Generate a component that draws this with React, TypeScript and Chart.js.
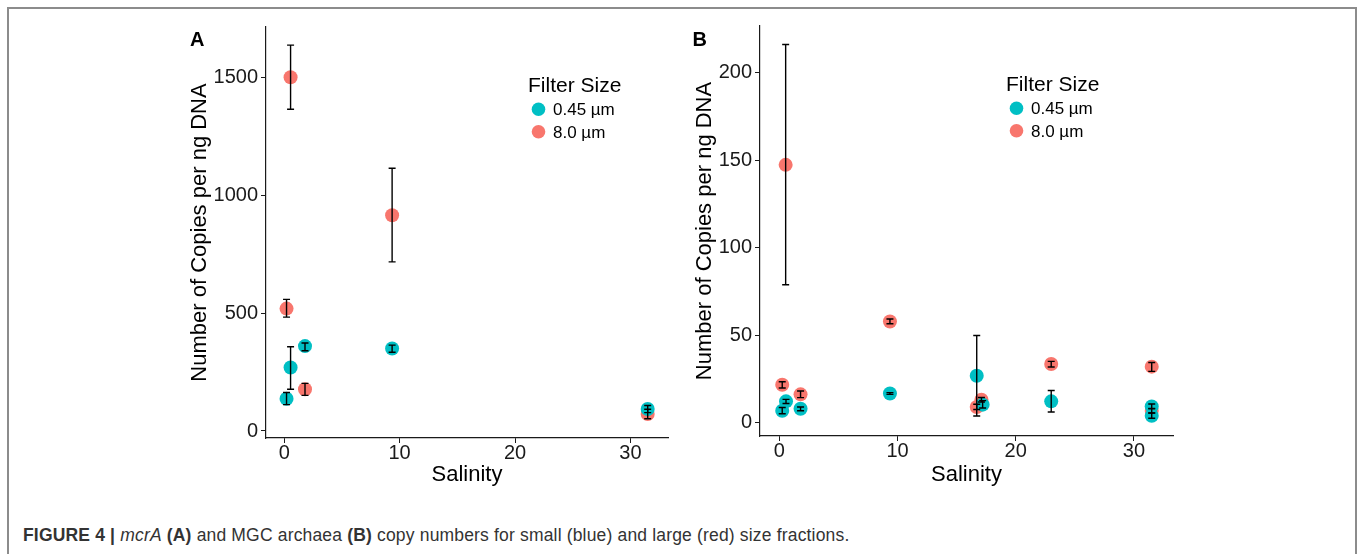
import React, { useEffect, useRef } from "react";
import { Chart, registerables } from "chart.js";

Chart.register(...registerables);

const BLUE = "#00BFC4";
const RED = "#F8766D";

// ---------- Panel A: mcrA ----------
const salinityA_small = [0.2, 0.55, 1.8, 9.35, 31.5];
const copiesA_small = [137, 269, 360, 350, 93];
const lowA_small = [112, 177, 340, 334, 78];
const highA_small = [163, 357, 373, 364, 108];

const salinityA_large = [0.2, 0.55, 1.8, 9.35, 31.5];
const copiesA_large = [519, 1500, 177, 915, 72];
const lowA_large = [483, 1364, 151, 717, 52];
const highA_large = [558, 1636, 202, 1114, 92];

// ---------- Panel B: MGC archaea ----------
const salinityB_small = [0.25, 0.57, 1.8, 9.36, 16.7, 17.2, 23.0, 31.5, 31.5];
const copiesB_small = [6.8, 12.2, 8.0, 16.7, 26.8, 10.3, 12.2, 9.3, 4.0];
const lowB_small = [5.1, 11.0, 6.8, 16.2, 3.8, 8.4, 6.1, 7.9, 2.5];
const highB_small = [8.7, 13.3, 9.0, 17.2, 49.8, 12.6, 18.4, 10.7, 5.5];

const salinityB_large = [0.25, 0.54, 1.8, 9.36, 16.7, 17.1, 23.0, 31.5, 31.5];
const copiesB_large = [21.7, 147.3, 16.2, 57.8, 9.0, 13.1, 33.5, 32.0, 6.8];
const lowB_large = [19.8, 78.8, 14.3, 56.5, 7.5, 11.8, 31.8, 29.3, 5.5];
const highB_large = [23.4, 216, 18.1, 59.2, 10.5, 14.4, 35.0, 34.4, 8.2];

// ---------- Axes / text ----------
const xTicks = [0, 10, 20, 30];
const yTicksA = [0, 500, 1000, 1500];
const yTicksB = [0, 50, 100, 150, 200];
const xTitle = "Salinity";
const yTitle = "Number of Copies per ng DNA";
const legendTitle = "Filter Size";
const legendLabels = ["0.45 µm", "8.0 µm"];

const FONT = "'Liberation Sans', Arial, Helvetica, sans-serif";
const TEXT = "#1a1a1a";

const errorBarPlugin = {
  id: "errorBars",
  afterDatasetsDraw(chart: any) {
    const { ctx } = chart;
    const xs = chart.scales.x;
    const ys = chart.scales.y;
    ctx.save();
    ctx.strokeStyle = "#000";
    ctx.lineWidth = 1.4;
    chart.data.datasets.forEach((ds: any) => {
      ds.data.forEach((p: any, i: number) => {
        const px = xs.getPixelForValue(p.x);
        const yl = ys.getPixelForValue(ds.errLow[i]);
        const yh = ys.getPixelForValue(ds.errHigh[i]);
        const w = 3.5;
        ctx.beginPath();
        ctx.moveTo(px, yl);
        ctx.lineTo(px, yh);
        ctx.moveTo(px - w, yl);
        ctx.lineTo(px + w, yl);
        ctx.moveTo(px - w, yh);
        ctx.lineTo(px + w, yh);
        ctx.stroke();
      });
    });
    ctx.restore();
  },
};

const overlayPlugin = {
  id: "overlay",
  afterDraw(chart: any, _args: any, opts: any) {
    const { ctx } = chart;
    ctx.save();
    ctx.fillStyle = "#000";
    ctx.textAlign = "left";
    ctx.textBaseline = "alphabetic";
    ctx.font = `bold 20px ${FONT}`;
    ctx.fillText(opts.label, opts.labelX, opts.labelY);
    const lx = opts.legendX;
    const ly = opts.legendY;
    ctx.font = `21px ${FONT}`;
    ctx.fillStyle = "#000";
    ctx.fillText(legendTitle, lx, ly);
    ctx.font = `17px ${FONT}`;
    chart.data.datasets.forEach((ds: any, i: number) => {
      ctx.fillStyle = ds.backgroundColor;
      ctx.beginPath();
      ctx.arc(lx + 10.5, ly + 17.5 + i * 22.6, 6.8, 0, Math.PI * 2);
      ctx.fill();
      ctx.fillStyle = "#000";
      ctx.fillText(ds.label, lx + 25, ly + 23.3 + i * 22.6);
    });
    ctx.restore();
  },
};

function makeConfig(p: any): any {
  return {
    type: "scatter",
    data: {
      datasets: [
        {
          label: legendLabels[0],
          data: p.xs.map((x: number, i: number) => ({ x, y: p.ys[i] })),
          errLow: p.lo,
          errHigh: p.hi,
          backgroundColor: BLUE,
          borderWidth: 0,
          pointRadius: 7,
          pointHoverRadius: 7,
        },
        {
          label: legendLabels[1],
          data: p.xl.map((x: number, i: number) => ({ x, y: p.yl[i] })),
          errLow: p.lol,
          errHigh: p.hil,
          backgroundColor: RED,
          borderWidth: 0,
          pointRadius: 7,
          pointHoverRadius: 7,
        },
      ],
    },
    options: {
      responsive: false,
      animation: false,
      devicePixelRatio: 1,
      layout: { padding: { left: p.padLeft, top: p.padTop, right: p.padRight, bottom: 0 } },
      plugins: {
        legend: { display: false },
        tooltip: { enabled: false },
        overlay: {
          label: p.label,
          labelX: p.labelX,
          labelY: p.labelY,
          legendX: p.legendX,
          legendY: p.legendY,
        },
      },
      scales: {
        x: {
          type: "linear",
          min: p.xMin,
          max: p.xMax,
          afterBuildTicks: (s: any) => {
            s.ticks = xTicks.map((v) => ({ value: v }));
          },
          afterFit: (s: any) => {
            s.height = p.xHeight;
          },
          ticks: {
            font: { size: 20, family: FONT, lineHeight: 1.0 },
            color: TEXT,
            padding: 0,
            maxRotation: 0,
            callback: (v: any) => String(v),
          },
          grid: { display: true, drawOnChartArea: false, drawTicks: true, tickLength: 5, color: TEXT, lineWidth: 1 },
          border: { display: true, color: TEXT, width: 1.2 },
          title: {
            display: true,
            text: xTitle,
            font: { size: 22, family: FONT },
            color: "#000",
            padding: { top: 0, bottom: 12 },
          },
        },
        y: {
          type: "linear",
          min: p.yMin,
          max: p.yMax,
          afterBuildTicks: (s: any) => {
            s.ticks = p.yTicks.map((v: number) => ({ value: v }));
          },
          afterFit: (s: any) => {
            s.width = p.yWidth;
          },
          ticks: {
            font: { size: 20, family: FONT },
            color: TEXT,
            padding: 3,
            callback: (v: any) => String(v),
          },
          grid: { display: true, drawOnChartArea: false, drawTicks: true, tickLength: 5, color: TEXT, lineWidth: 1 },
          border: { display: true, color: TEXT, width: 1.2 },
          title: {
            display: true,
            text: yTitle,
            font: { size: 22, family: FONT },
            color: "#000",
            padding: 0,
          },
        },
      },
    },
    plugins: [errorBarPlugin, overlayPlugin],
  };
}

const panelA = {
  xs: salinityA_small, ys: copiesA_small, lo: lowA_small, hi: highA_small,
  xl: salinityA_large, yl: copiesA_large, lol: lowA_large, hil: highA_large,
  xMin: -1.58, xMax: 33.26, yMin: -29.7, yMax: 1713, yTicks: yTicksA,
  padLeft: 187, padTop: 27, padRight: 12, yWidth: 79, xHeight: 62,
  label: "A", labelX: 190, labelY: 46, legendX: 528, legendY: 91.7,
};

const panelB = {
  xs: salinityB_small, ys: copiesB_small, lo: lowB_small, hi: highB_small,
  xl: salinityB_large, yl: copiesB_large, lol: lowB_large, hil: highB_large,
  xMin: -1.63, xMax: 33.3, yMin: -7.6, yMax: 226.6, yTicks: yTicksB,
  padLeft: 12, padTop: 26, padRight: 187, yWidth: 68, xHeight: 64,
  label: "B", labelX: 12.5, labelY: 46, legendX: 326, legendY: 90.7,
};

function Panel({ cfg, left }: { cfg: any; left: number }) {
  const ref = useRef<HTMLCanvasElement | null>(null);
  useEffect(() => {
    if (!ref.current) return;
    const chart = new Chart(ref.current, makeConfig(cfg));
    return () => chart.destroy();
  }, [cfg]);
  return (
    <canvas
      ref={ref}
      width={680}
      height={500}
      style={{ position: "absolute", left, top: 0, width: 680, height: 500 }}
    />
  );
}

export default function App() {
  return (
    <div
      style={{
        position: "absolute",
        left: 0,
        top: 0,
        width: 1360,
        height: 554,
        overflow: "hidden",
        background: "#fff",
      }}
    >
      <div
        style={{
          position: "absolute",
          left: 7,
          top: 7,
          width: 1350,
          height: 547,
          boxSizing: "border-box",
          borderLeft: "2px solid #8c8c8c",
          borderTop: "2px solid #8c8c8c",
          borderRight: "2px solid #8c8c8c",
        }}
      />
      <Panel cfg={panelA} left={0} />
      <Panel cfg={panelB} left={680} />
      <div
        style={{
          position: "absolute",
          left: 23,
          top: 525,
          whiteSpace: "nowrap",
          fontFamily: "'Liberation Sans', Arial, sans-serif",
          fontSize: 17.5,
          letterSpacing: "0.17px",
          lineHeight: "20px",
          color: "#333",
        }}
      >
        <b>FIGURE 4 |</b> <i>mcrA</i> <b>(A)</b> and MGC archaea <b>(B)</b> copy numbers for small (blue) and
        large (red) size fractions.
      </div>
    </div>
  );
}
